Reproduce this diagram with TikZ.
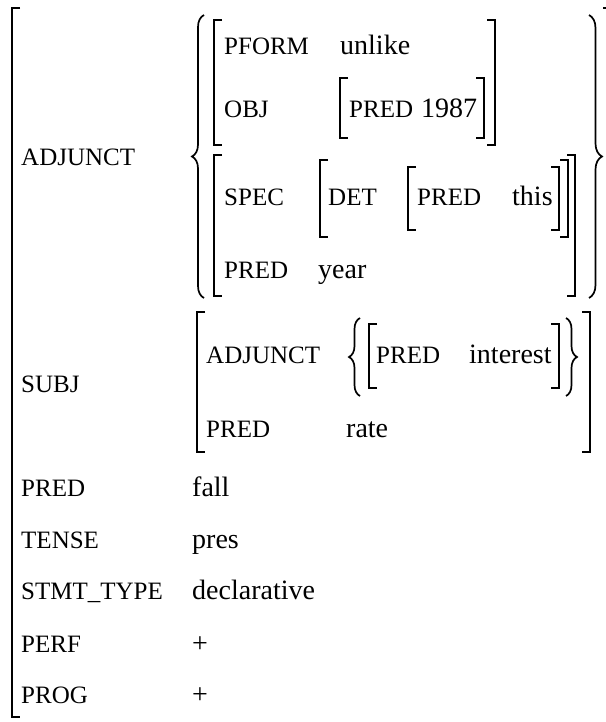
\documentclass[tikz,border=0pt]{standalone}
\usepackage{fontspec}
\setmainfont{Liberation Serif}
\usetikzlibrary{decorations.pathreplacing}

\tikzset{
    brack/.style={line width=1.4pt},
    curly/.style={line width=1.7pt, decorate, decoration={brace, amplitude=#1}},
    attr/.style={anchor=base west, inner sep=0pt, font=\fontsize{25}{25}\selectfont},
    val/.style={anchor=base west, inner sep=0pt, font=\fontsize{28}{28}\selectfont},
}

\begin{document}
\begin{tikzpicture}[x=1pt, y=-1pt]
    \useasboundingbox (0,0) rectangle (605,722);

    % outer matrix
    \draw[brack] (20,8) -- (12,8) -- (12,717) -- (20,717);
    \draw[brack] (603,8) -- (607,8);   % right side runs off the page

    % adjunct set
    \node[attr] (adj) at (21,165) {ADJUNCT};
    \draw[curly=12pt] (204,298) -- (204,15);
    \draw[curly=13pt] (589,15) -- (589,298);

    \draw[brack] (222,20) -- (214,20) -- (214,145) -- (222,145);
    \draw[brack] (487,20) -- (495,20) -- (495,145) -- (487,145);
    \node[attr] (pform) at (224,55) {PFORM};
    \node[val] (unlike) at (340,55) {unlike};
    \node[attr] (obj) at (224,118) {OBJ};
    \draw[brack] (348,78) -- (340,78) -- (340,138) -- (348,138);
    \draw[brack] (476,78) -- (484,78) -- (484,138) -- (476,138);
    \node[attr] (pred1) at (349,118) {PRED};
    \node[val] (num) at (421,118) {1987};

    \draw[brack] (222,155) -- (214,155) -- (214,296) -- (222,296);
    \draw[brack] (567,155) -- (575,155) -- (575,296) -- (567,296);
    \node[attr] (spec) at (224,205) {SPEC};
    \draw[brack] (328,160) -- (320,160) -- (320,237) -- (328,237);
    \draw[brack] (560,160) -- (568,160) -- (568,237) -- (560,237);
    \node[attr] (det) at (328,205) {DET};
    \draw[brack] (416,167) -- (408,167) -- (408,230) -- (416,230);
    \draw[brack] (551,167) -- (559,167) -- (559,230) -- (551,230);
    \node[attr] (pred2) at (417,205) {PRED};
    \node[val] (this) at (512,205) {this};
    \node[attr] (pred3) at (224,278) {PRED};
    \node[val] (year) at (318,278) {year};

    % subject
    \node[attr] (subj) at (21,392) {SUBJ};
    \draw[brack] (205,312) -- (197,312) -- (197,452) -- (205,452);
    \draw[brack] (582,312) -- (590,312) -- (590,452) -- (582,452);
    \node[attr] (adj2) at (206,363) {ADJUNCT};
    \draw[curly=11pt] (360,396) -- (360,318);
    \draw[curly=11pt] (566,318) -- (566,396);
    \draw[brack] (377,324) -- (369,324) -- (369,388) -- (377,388);
    \draw[brack] (551,324) -- (559,324) -- (559,388) -- (551,388);
    \node[attr] (pred4) at (376,363) {PRED};
    \node[val] (interest) at (469,363) {interest};
    \node[attr] (pred5) at (206,437) {PRED};
    \node[val] (rate) at (346,437) {rate};

    % remaining features
    \node[attr] (pred) at (21,496) {PRED};
    \node[val] (fall) at (192,496) {fall};
    \node[attr] (tense) at (21,548) {TENSE};
    \node[val] (pres) at (192,548) {pres};
    \node[attr] (stmt) at (21,599) {STMT\_TYPE};
    \node[val] (decl) at (192,599) {declarative};
    \node[attr] (perf) at (21,652) {PERF};
    \node[val] (plus1) at (192,652) {+};
    \node[attr] (prog) at (21,703) {PROG};
    \node[val] (plus2) at (192,703) {+};
\end{tikzpicture}
\end{document}
